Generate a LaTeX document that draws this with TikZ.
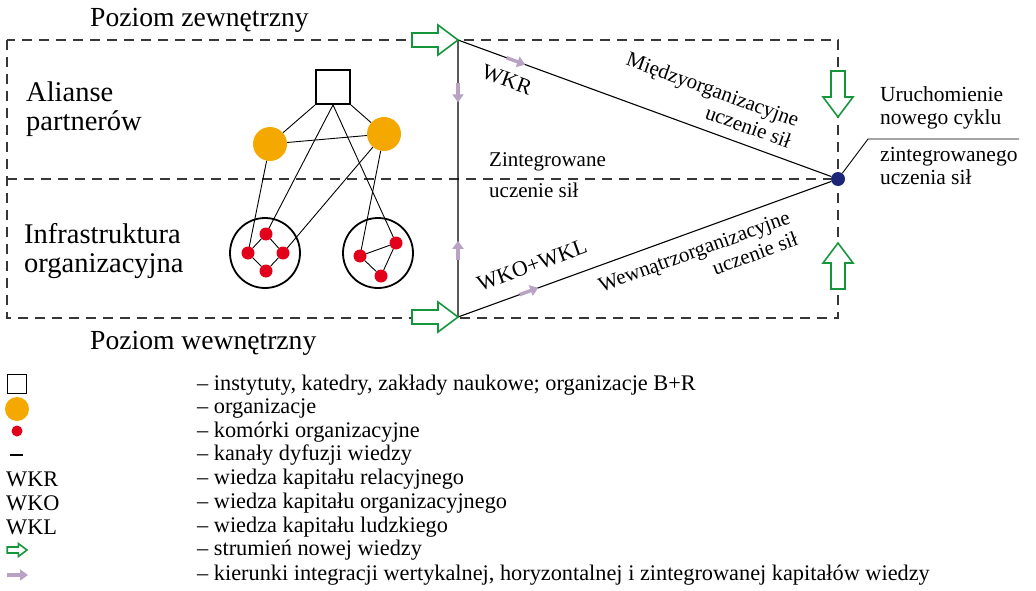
\documentclass[tikz,border=0pt]{standalone}
\usepackage{fontspec}
\setmainfont{Liberation Serif}
\usetikzlibrary{arrows.meta, positioning}

\definecolor{flowgreen}{RGB}{22,150,60}
\definecolor{lilac}{RGB}{184,163,196}
\definecolor{orgorange}{RGB}{245,168,0}
\definecolor{cellred}{RGB}{226,0,26}
\definecolor{cycleblue}{RGB}{28,38,120}
\definecolor{dashgray}{RGB}{55,55,55}

\tikzset{
  level/.style={dashgray, line width=1.2pt, dash pattern=on 10pt off 7pt},
  lbl/.style={inner sep=0pt, align=left, font=\fontsize{21}{23}\selectfont},
  keytext/.style={inner sep=0pt, anchor=west, font=\fontsize{22.3}{24}\selectfont},
  side/.style={inner sep=0pt, align=left, font=\fontsize{28.5}{29}\selectfont},
  org/.style={circle, fill=orgorange, minimum size=34pt, inner sep=0pt},
  cell/.style={circle, fill=cellred, minimum size=13pt, inner sep=0pt},
  unit/.style={circle, draw, line width=1.8pt, minimum size=70pt, inner sep=0pt},
  channel/.style={line width=0.9pt},
  integr/.style={lilac, line width=3.5pt, -{Triangle[length=8pt,width=11pt]}},
  flow/.pic={
    \draw[flowgreen, fill=white, line width=1.6pt]
      (0,0) -- (-20,-15) -- (-20,-7) -- (-46,-7) -- (-46,7) -- (-20,7) -- (-20,15) -- cycle;
  }
}

\begin{document}
\begin{tikzpicture}[x=1pt, y=-1pt]
\useasboundingbox (0,0) rectangle (1036,591);

% levels
\draw[level] (7,40) rectangle (838,318);
\draw[level] (7,179) -- (838,179);

\node[inner sep=0pt, anchor=west, font=\fontsize{27.6}{29}\selectfont] (outer) at (90,20) {Poziom zewnętrzny};
\node[inner sep=0pt, anchor=west, font=\fontsize{27.6}{29}\selectfont] (inner) at (90,343) {Poziom wewnętrzny};
\node[side, anchor=west] (alliance) at (26,109) {Alianse\\partnerów};
\node[side, anchor=west] (infra) at (24,251) {Infrastruktura\\organizacyjna};

% network
\node[draw, line width=1.8pt, minimum size=34pt, inner sep=0pt] (inst) at (333,87) {};
\node[org] (orgA) at (270,144) {};
\node[org] (orgB) at (384,134) {};
\node[unit] (unitA) at (265,253) {};
\node[unit] (unitB) at (378,253) {};

\draw[channel] (inst.south west) -- (orgA);
\draw[channel] (inst.south east) -- (orgB);
\draw[channel] (orgA) -- (orgB);
\draw[channel] (inst.south) -- (266,234);
\draw[channel] (inst.south) -- (396,243);
\draw[channel] (orgA) -- (248,253);
\draw[channel] (orgB) -- (283,253);
\draw[channel] (orgB) -- (360,256);

\node[cell] (a1) at (266,234) {};
\node[cell] (a2) at (248,253) {};
\node[cell] (a3) at (283,253) {};
\node[cell] (a4) at (266,271) {};
\node[cell] (b1) at (360,256) {};
\node[cell] (b2) at (396,243) {};
\node[cell] (b3) at (381,276) {};
\draw[channel] (a1) -- (a3);
\draw[channel] (a3) -- (a4);
\draw[channel] (a4) -- (a2);
\draw[channel] (a2) -- (a1);
\draw[channel] (b1) -- (b2);
\draw[channel] (b2) -- (b3);
\draw[channel] (b3) -- (b1);

% triangle
\coordinate (top) at (458,40);
\coordinate (bottom) at (458,317);
\node[circle, fill=cycleblue, minimum size=14pt, inner sep=0pt] (cycle) at (838,179) {};
\draw[line width=1.1pt] (top) -- (cycle) -- (bottom) -- (top);

\path (top) -- (cycle) coordinate[pos=0.13] (r1) coordinate[pos=0.18] (r2);
\path (bottom) -- (cycle) coordinate[pos=0.165] (l1) coordinate[pos=0.215] (l2);
\path (top) -- (bottom) coordinate[pos=0.155] (v1) coordinate[pos=0.225] (v2);
\path (bottom) -- (top) coordinate[pos=0.205] (w1) coordinate[pos=0.275] (w2);
\draw[integr] (r1) -- (r2);
\draw[integr] (l1) -- (l2);
\draw[integr] (v1) -- (v2);
\draw[integr] (w1) -- (w2);

\pic at (top) {flow};
\pic at (bottom) {flow};
\pic[rotate=-90] at (838,117) {flow};
\pic[rotate=90] at (838,243) {flow};

\node[lbl, rotate=-20, font=\fontsize{22}{23}\selectfont] (wkr) at (507,80) {WKR};
\node[lbl, rotate=20, font=\fontsize{22}{23}\selectfont] (wkowkl) at (532,265) {WKO+WKL};
\node[lbl, rotate=-20, align=right] (inter) at (709,100) {Międzyorganizacyjne\\uczenie sił};
\node[lbl, rotate=20, align=right] (intra) at (698,262) {Wewnątrzorganizacyjne\\uczenie sił};
\node[lbl, anchor=west] (integ1) at (489,162) {Zintegrowane};
\node[lbl, anchor=west] (integ2) at (489,190) {uczenie sił};

\node[lbl, anchor=west, font=\fontsize{21.5}{23}\selectfont] (restart1) at (880,108) {Uruchomienie\\nowego cyklu};
\node[lbl, anchor=west, font=\fontsize{21.5}{23}\selectfont] (restart2) at (880,166) {zintegrowanego\\uczenia sił};
\coordinate (knee) at (868,139);
\coordinate (lead) at (1019,139);
\draw[line width=0.9pt] (cycle) -- (knee) -- (lead);

% legend
\node[draw, line width=1.3pt, minimum size=19pt, inner sep=0pt] (keyinst) at (17,384) {};
\node[circle, fill=orgorange, minimum size=24pt, inner sep=0pt] (keyorg) at (17,409) {};
\node[cell, minimum size=11pt] (keycell) at (17,431) {};
\coordinate (keych1) at (10,455);
\coordinate (keych2) at (23,455);
\draw[line width=2pt] (keych1) -- (keych2);
\node[keytext] (keywkr) at (6,479) {WKR};
\node[keytext] (keywko) at (6,503) {WKO};
\node[keytext] (keywkl) at (6,527) {WKL};
\pic[scale=0.43] at (27,550) {flow};
\coordinate (keyint1) at (7,575);
\coordinate (keyint2) at (28,575);
\draw[integr] (keyint1) -- (keyint2);

\foreach \y/\t [count=\i] in {
  385/instytuty{,} katedry{,} zakłady naukowe; organizacje B+R,
  409/organizacje,
  432/komórki organizacyjne,
  455/kanały dyfuzji wiedzy,
  479/wiedza kapitału relacyjnego,
  503/wiedza kapitału organizacyjnego,
  527/wiedza kapitału ludzkiego,
  550/strumień nowej wiedzy,
  575/kierunki integracji wertykalnej{,} horyzontalnej i zintegrowanej kapitałów wiedzy}
  \node[keytext] (key\i) at (197,\y) {-- \t};

\end{tikzpicture}
\end{document}
